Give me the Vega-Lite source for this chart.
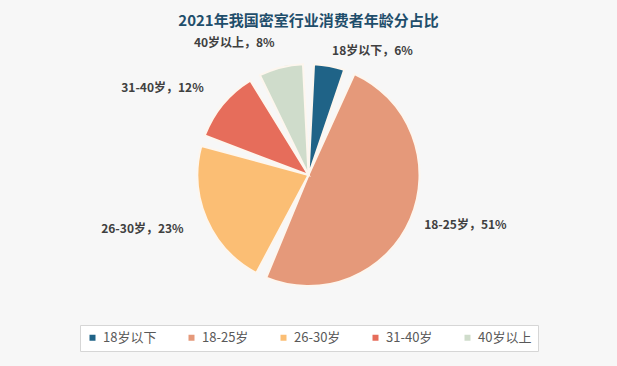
{
  "$schema": "https://vega.github.io/schema/vega-lite/v6.json",
  "width": 617,
  "height": 366,
  "autosize": {"type": "fit", "contains": "padding"},
  "padding": {"left": 5, "right": 5, "top": 14, "bottom": 14},
  "background": "#f7f7f7",
  "config": {"legend": {"layout": {"bottom": {"anchor": "middle"}}}},
  "title": {
    "text": "2021年我国密室行业消费者年龄分占比",
    "font": "Noto Sans CJK SC",
    "fontSize": 15,
    "fontWeight": "bold",
    "color": "#1f4e6b",
    "anchor": "middle",
    "offset": 8
  },
  "data": {
    "values": [
      {"category": "18岁以下", "value": 6, "order": 1},
      {"category": "18-25岁", "value": 51, "order": 2},
      {"category": "26-30岁", "value": 23, "order": 3},
      {"category": "31-40岁", "value": 12, "order": 4},
      {"category": "40岁以上", "value": 8, "order": 5}
    ]
  },
  "layer": [
    {
      "mark": {"type": "arc", "radius": 111, "padAngle": 0.1, "stroke": "#fdf6ee", "strokeWidth": 2},
      "encoding": {
        "theta": {"field": "value", "type": "quantitative", "stack": true, "scale": {"domain": [0, 100]}},
        "order": {"field": "order", "type": "quantitative"},
        "color": {
          "field": "category",
          "type": "nominal",
          "scale": {
            "domain": ["18岁以下", "18-25岁", "26-30岁", "31-40岁", "40岁以上"],
            "range": ["#1f6387", "#e5997a", "#fbbe74", "#e66d5b", "#cfdccb"]
          },
          "legend": {
            "title": null,
            "orient": "bottom",
            "direction": "horizontal",
            "symbolType": "square",
            "symbolSize": 36,
            "symbolStrokeWidth": 0,
            "labelFont": "Noto Sans CJK SC",
            "labelFontSize": 13,
            "labelColor": "#595959",
            "columnPadding": 28,
            "strokeColor": "#d6d6d6",
            "fillColor": "#ffffff",
            "padding": 6,
            "offset": 12
          }
        }
      }
    },
    {
      "transform": [
        {"stack": "value", "groupby": [], "sort": [{"field": "order"}], "as": ["v0", "v1"]},
        {"calculate": "(datum.v0 + datum.v1) / 2", "as": "mid"},
        {"calculate": "datum.category + '，' + datum.value + '%'", "as": "label"},
        {"filter": "datum.order <= 2"}
      ],
      "mark": {"type": "text", "radius": 126, "align": "left", "baseline": "middle", "font": "Noto Sans CJK SC", "fontWeight": "bold", "fontSize": 12, "color": "#404040"},
      "encoding": {
        "theta": {"field": "mid", "type": "quantitative", "stack": null, "scale": {"domain": [0, 100]}},
        "text": {"field": "label", "type": "nominal"}
      }
    },
    {
      "transform": [
        {"stack": "value", "groupby": [], "sort": [{"field": "order"}], "as": ["v0", "v1"]},
        {"calculate": "(datum.v0 + datum.v1) / 2", "as": "mid"},
        {"calculate": "datum.category + '，' + datum.value + '%'", "as": "label"},
        {"filter": "datum.order > 2"}
      ],
      "mark": {"type": "text", "radius": 136, "align": "right", "baseline": "middle", "font": "Noto Sans CJK SC", "fontWeight": "bold", "fontSize": 12, "color": "#404040"},
      "encoding": {
        "theta": {"field": "mid", "type": "quantitative", "stack": null, "scale": {"domain": [0, 100]}},
        "text": {"field": "label", "type": "nominal"}
      }
    }
  ]
}
